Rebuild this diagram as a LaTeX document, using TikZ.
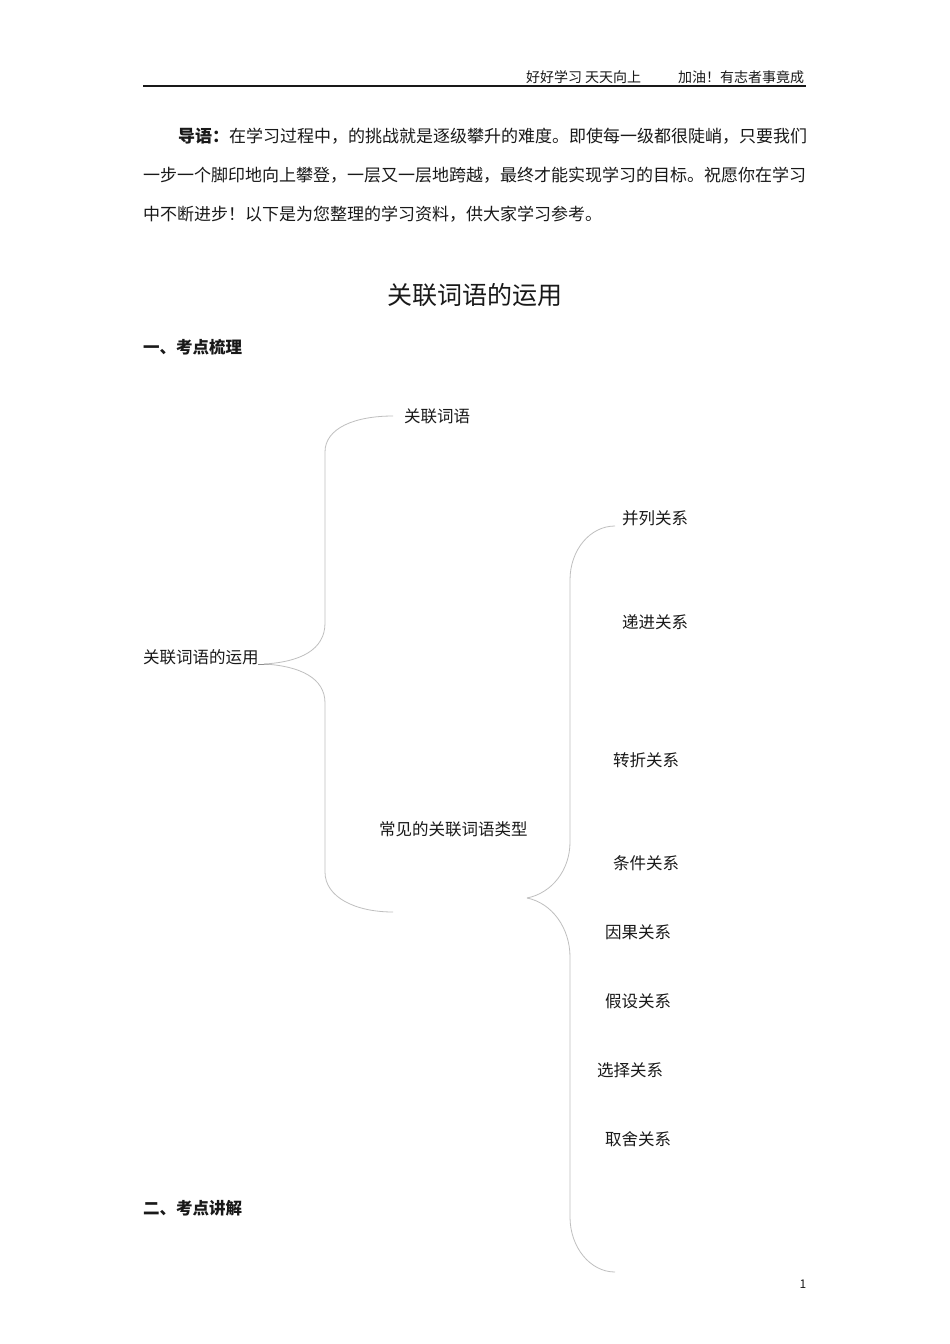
\documentclass[tikz,border=0pt]{standalone}
\usepackage{fontspec}
\setmainfont{Noto Sans CJK SC}
\begin{document}
\begin{tikzpicture}[x=1pt,y=-1pt,
  txt/.style={inner sep=0pt, outer sep=0pt, anchor=base west, text=black!90},
  para/.style={txt, font=\fontsize{17}{20}\selectfont},
  mm/.style={txt, font=\fontsize{16.5}{19}\selectfont},
  br/.style={draw=black!25, line width=0.8pt}]
\useasboundingbox (0,0) rectangle (950,1344);
\fill[white] (0,0) rectangle (950,1344);
% header
\node[txt, font=\fontsize{14}{16}\selectfont] (h1) at (526,82) {好好学习 天天向上};
\node[txt, font=\fontsize{14}{16}\selectfont] (h2) at (678,82) {加油！有志者事竟成};
\draw[line width=2pt, black!90] (143,86) -- (806,86);
% intro paragraph
\node[para] (p1) at (178,142.5) {\textbf{导语：}在学习过程中，的挑战就是逐级攀升的难度。即使每一级都很陡峭，只要我们};
\node[para] (p2) at (143,181.5) {一步一个脚印地向上攀登，一层又一层地跨越，最终才能实现学习的目标。祝愿你在学习};
\node[para] (p3) at (143,220.5) {中不断进步！以下是为您整理的学习资料，供大家学习参考。};
% title
\node[txt, anchor=base, font=\fontsize{25}{28}\selectfont] (title) at (475,304.5) {关联词语的运用};
\node[txt, font=\bfseries\fontsize{16.5}{19}\selectfont] (s1) at (143,353.3) {一、考点梳理};
\node[txt, font=\bfseries\fontsize{16.5}{19}\selectfont] (s2) at (143,1214.3) {二、考点讲解};
% mind map
\node[mm] (root) at (143,663.3) {关联词语的运用};
\node[mm] (kw) at (404,422.3) {关联词语};
\node[mm] (types) at (379,835.3) {常见的关联词语类型};
\node[mm] (t1) at (622,524.3) {并列关系};
\node[mm] (t2) at (622,628.3) {递进关系};
\node[mm] (t3) at (613,766.3) {转折关系};
\node[mm] (t4) at (613,869.3) {条件关系};
\node[mm] (t5) at (605,938.3) {因果关系};
\node[mm] (t6) at (605,1007.3) {假设关系};
\node[mm] (t7) at (597,1076.3) {选择关系};
\node[mm] (t8) at (605,1145.3) {取舍关系};
\coordinate (r) at (264,664);
\coordinate (a1) at (393,416);
\coordinate (a2) at (393,912);
\coordinate (r2) at (527,898);
\coordinate (b1) at (615,526);
\coordinate (b2) at (615,1272);
\draw[draw=black!45, line width=0.8pt] (258,664) -- (270,664);
\draw[br] (r) .. controls (300,662) and (325,650) .. (325,623) -- (325,452) .. controls (325,428) and (355,416) .. (a1);
\draw[br] (r) .. controls (300,666) and (325,678) .. (325,703) -- (325,872) .. controls (325,897) and (355,912) .. (a2);
\draw[br] (r2) .. controls (552,893) and (570,870) .. (570,842) -- (570,580) .. controls (570,550) and (590,526) .. (b1);
\draw[br] (r2) .. controls (552,903) and (570,928) .. (570,957) -- (570,1217) .. controls (570,1247) and (590,1272) .. (b2);
% page number
\node[txt, anchor=base, font=\fontsize{12}{14}\selectfont] (pg) at (803,1288) {1};
\end{tikzpicture}
\end{document}
